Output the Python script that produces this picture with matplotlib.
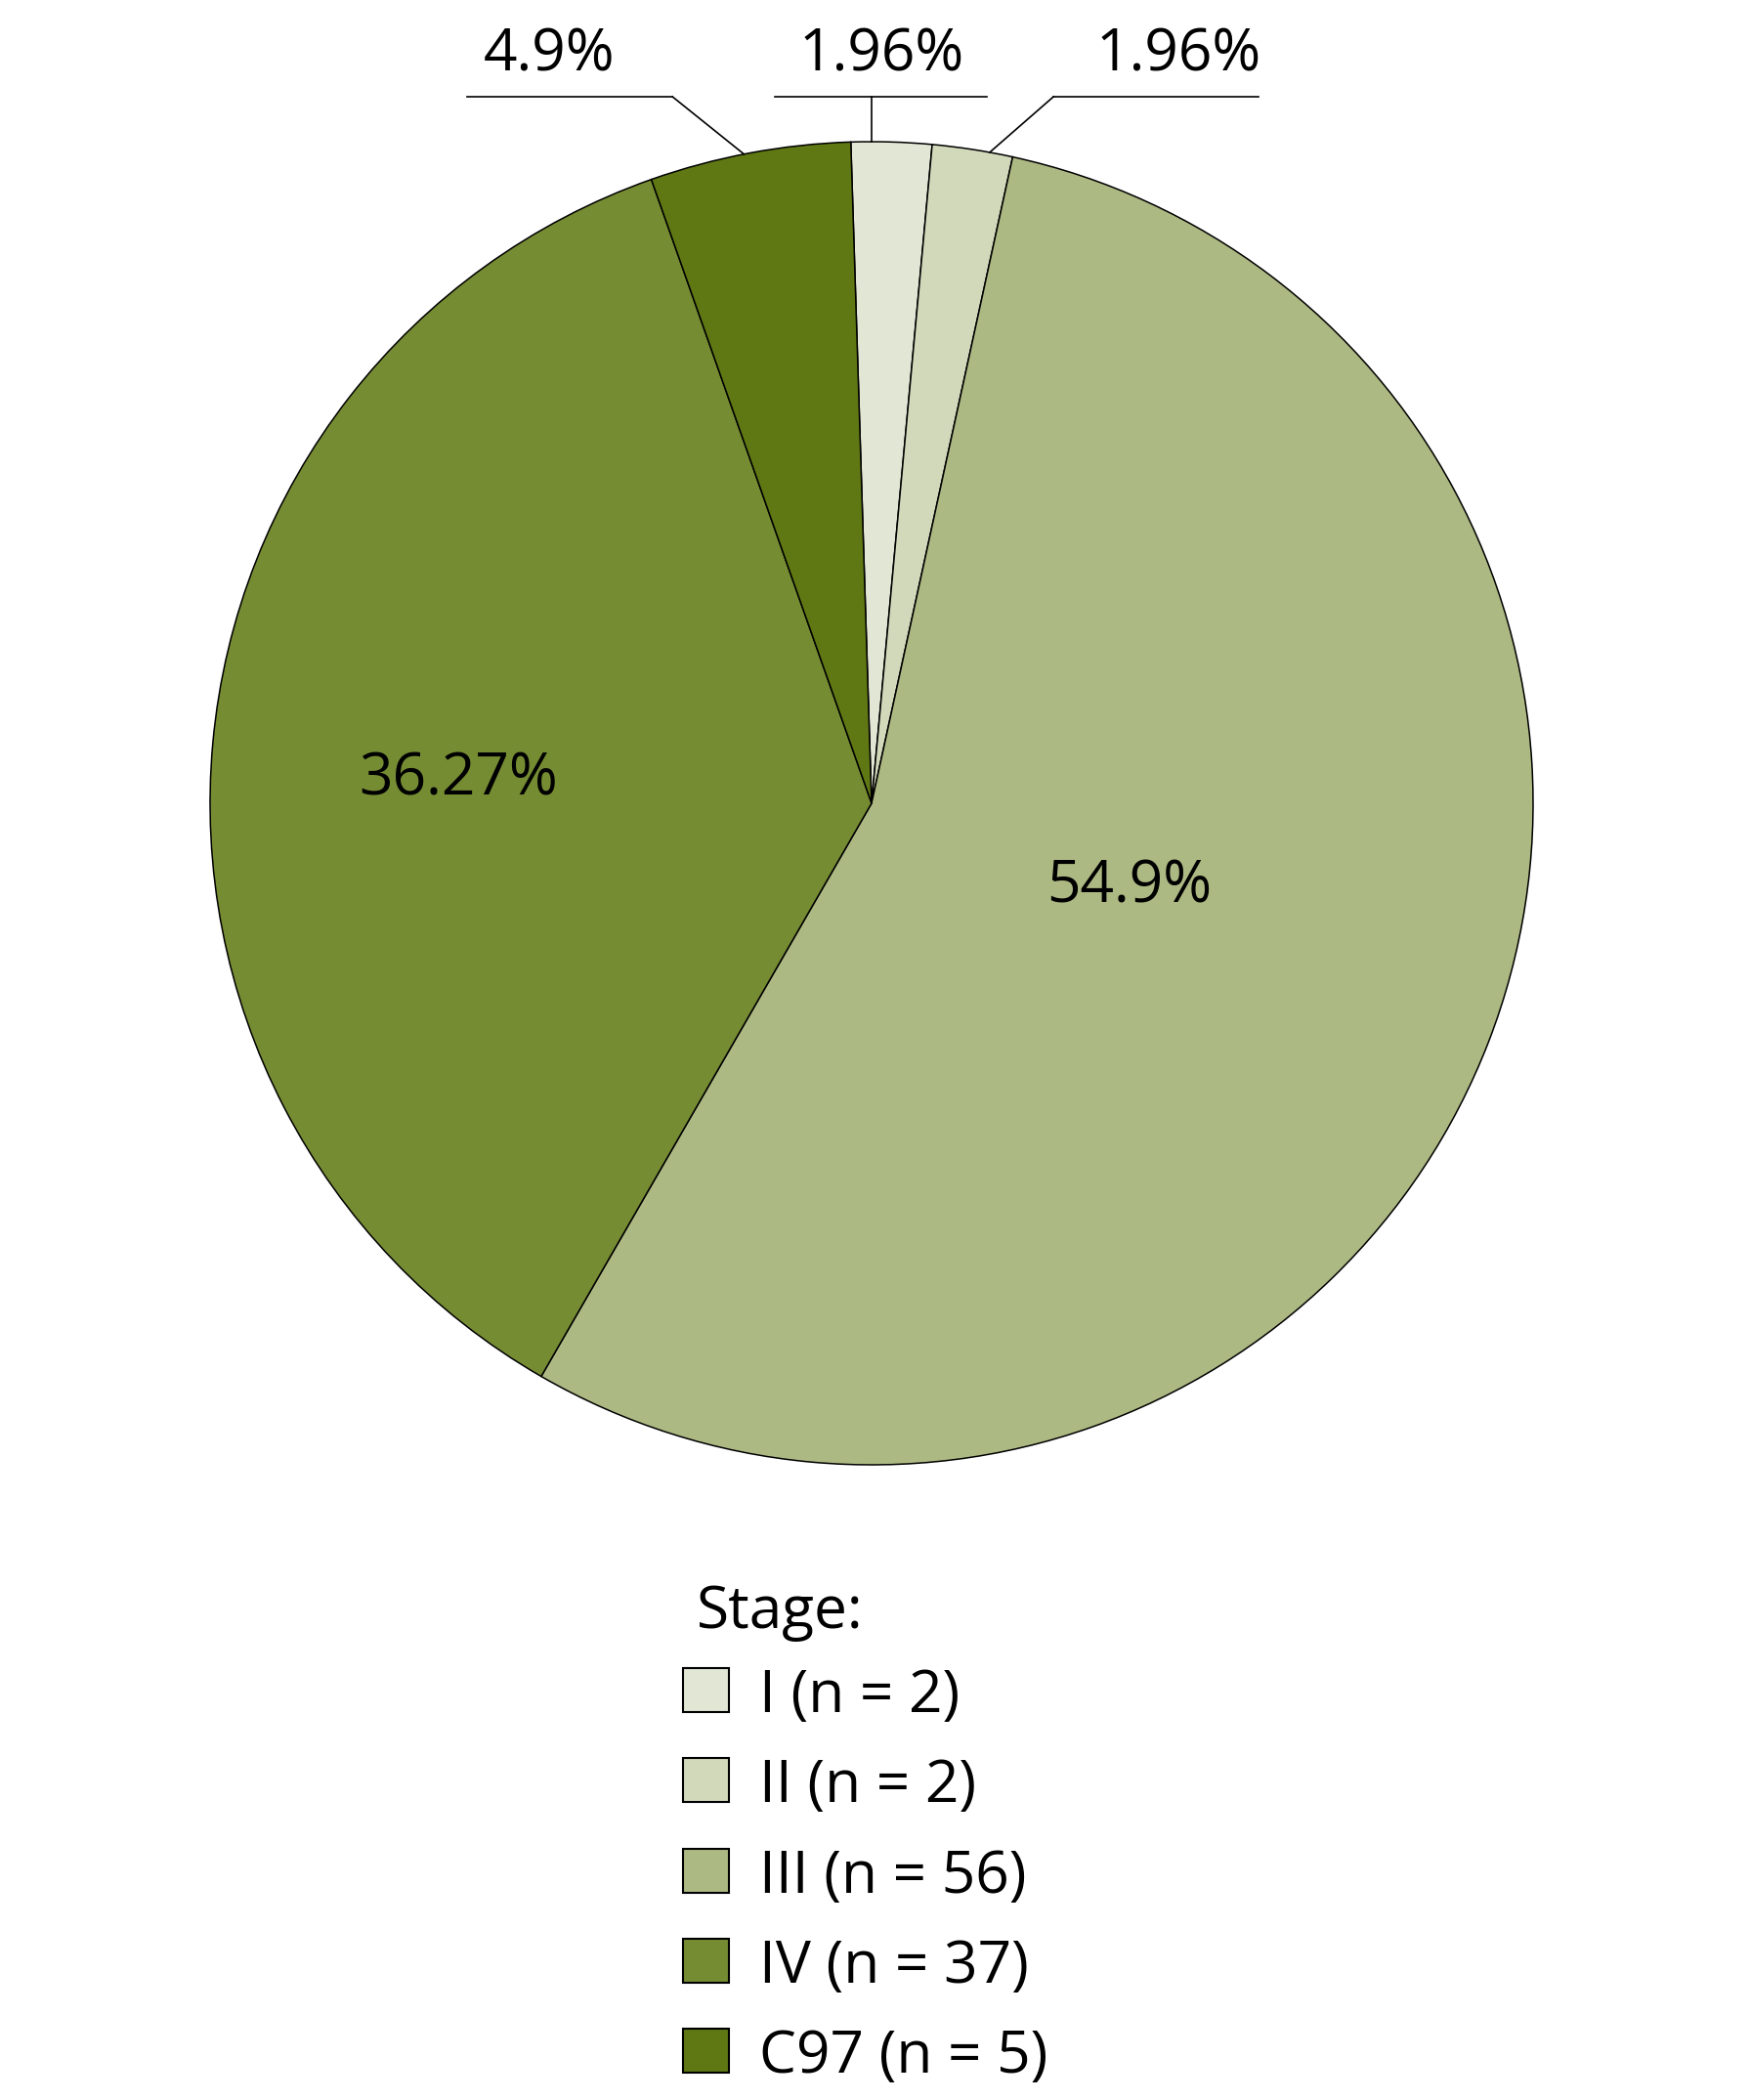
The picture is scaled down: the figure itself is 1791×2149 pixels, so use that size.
import matplotlib
matplotlib.use("Agg")
import matplotlib.pyplot as plt
from matplotlib.patches import Rectangle
import numpy as np

# ---- data ----
stages = ["I", "II", "III", "IV", "C97"]
counts = [2, 2, 56, 37, 5]
colors = ["#e2e6d4", "#d2d9bb", "#adb983", "#768c33", "#5f7814"]
legend_title = "Stage:"

plt.rcParams['font.family'] = ['Open Sans', 'DejaVu Sans']
FS = 43.5

W, H = 1791, 2149
fig = plt.figure(figsize=(W / 100, H / 100), dpi=100)

cx, cy, R = 892, 822, 677  # pixel layout (from top)
ax = fig.add_axes([(cx - R) / W, (H - cy - R) / H, 2 * R / W, 2 * R / H])
start = 91.8
wedges, _ = ax.pie(counts, colors=colors, startangle=start, counterclock=False,
                   wedgeprops=dict(edgecolor="black", linewidth=1.1))
ax.set_xlim(-1, 1)
ax.set_ylim(-1, 1)
ax.axis("off")

total = sum(counts)
def fmt(c):
    p = 100.0 * c / total
    return f"{p:.2f}".rstrip("0").rstrip(".") + "%"

# mid angles
mids = []
for w in wedges:
    mids.append(np.deg2rad((w.theta1 + w.theta2) / 2))

# inner labels (III, IV)
inner_r = {2: 0.409, 3: 0.625}
inner_ang = {2: -17.9, 3: 176.7}
for i, r in inner_r.items():
    a = np.deg2rad(inner_ang[i])
    ax.text(r * np.cos(a), r * np.sin(a), fmt(counts[i]), ha="center", va="center",
            fontsize=FS, color="black")

# outer labels with underline leaders (I, II, C97)
# (text center x, underline x0, x1, connector start x, anchor angle offset deg)
outer = {
    4: (-0.487, -0.611, -0.301, -0.301, 0.5),
    0: (0.015, -0.146, 0.174, 0.0, 0.0),
    1: (0.464, 0.275, 0.585, 0.275, -1.5),
}
ty = 1.068
for i, (tx, x0, x1, xs, off) in outer.items():
    ax.text(tx, ty + 0.018, fmt(counts[i]), ha="center", va="bottom", fontsize=FS,
            color="black", clip_on=False)
    ax.plot([x0, x1], [ty, ty], color="black", lw=1.2, clip_on=False)
    a = mids[i] + np.deg2rad(off)
    if i == 0:
        ex, ey = xs, np.sqrt(1 - xs ** 2)
    else:
        ex, ey = np.cos(a), np.sin(a)
    ax.plot([xs, ex], [ty, ey], color="black", lw=1.2, clip_on=False)

# legend (manual)
def fx(px):
    return px / W
def fy(py):
    return 1 - py / H

fig.text(fx(713), fy(1666), legend_title, fontsize=FS, ha="left", va="baseline")
box_w, box_h = 47, 45
top0, step = 1707, 92.3
for k, (s, c, col) in enumerate(zip(stages, counts, colors)):
    top = top0 + k * step
    fig.patches.append(Rectangle((fx(699), fy(top + box_h)), box_w / W, box_h / H,
                                 transform=fig.transFigure, facecolor=col,
                                 edgecolor="black", linewidth=1.5))
    fig.text(fx(777), fy(top + box_h), f"{s} (n = {c})", fontsize=FS, ha="left",
             va="baseline")

fig.savefig("out.png", dpi=100, facecolor="white")
